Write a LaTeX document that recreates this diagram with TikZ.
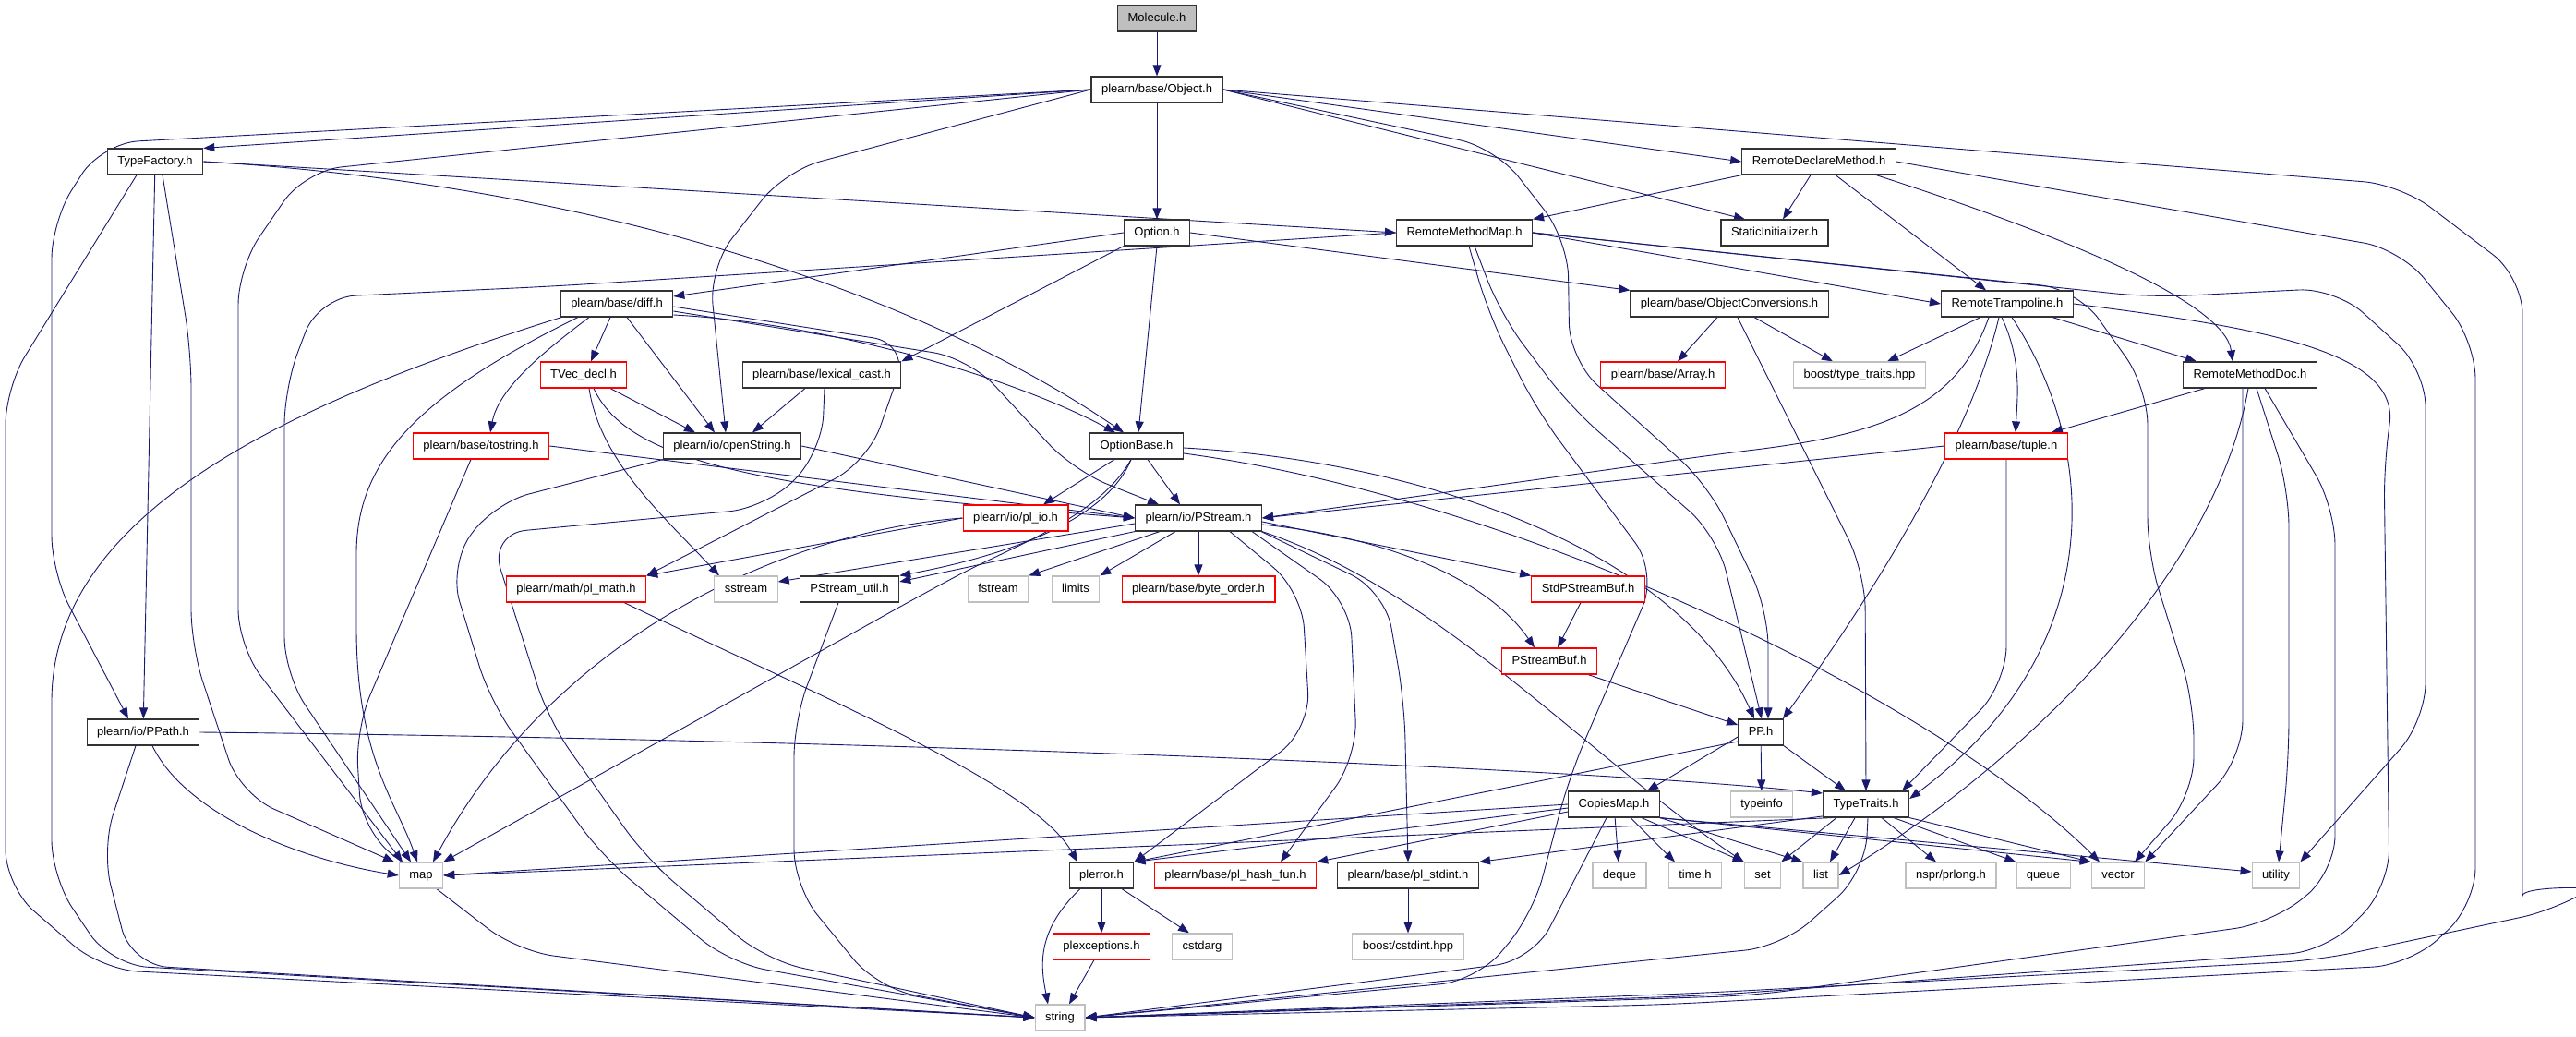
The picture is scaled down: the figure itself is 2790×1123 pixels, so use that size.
\documentclass[tikz,border=0pt]{standalone}
\usepackage{fontspec}
\setmainfont{Liberation Sans}
\usetikzlibrary{arrows.meta,backgrounds}

\definecolor{edgeblue}{HTML}{191970}
\definecolor{sysgray}{HTML}{BFBFBF}
\definecolor{hdrred}{HTML}{FF0000}
\definecolor{hdrblack}{HTML}{333333}

\tikzset{
  hdr/.style={draw=hdrblack, line width=1.2pt, fill=white, minimum height=28pt,
    inner xsep=11pt, inner ysep=0pt, text height=9.5pt, text depth=2.7pt,
    font=\fontsize{13}{15}\selectfont},
  hdrtrunc/.style={hdr, draw=hdrred},
  hdrsys/.style={hdr, draw=sysgray},
  hdrmain/.style={hdr, fill=sysgray},
  inc/.style={draw=edgeblue, line width=0.9pt, rounded corners=40pt,
    -{Triangle[length=12pt,width=9pt]}},
}

\begin{document}
\begin{tikzpicture}[x=1pt,y=-1pt]
\useasboundingbox (0,0) rectangle (2790,1123);

% top
\node[hdrmain] (molecule) at (1253,20) {Molecule.h};
\node[hdr] (object) at (1253,97) {plearn/base/Object.h};

% rank 2
\node[hdr] (typefactory) at (168,175) {TypeFactory.h};
\node[hdr] (remotedeclare) at (1970,175) {RemoteDeclareMethod.h};

% rank 3
\node[hdr] (option) at (1253,252) {Option.h};
\node[hdr] (remotemap) at (1586,252) {RemoteMethodMap.h};
\node[hdr] (staticinit) at (1922,252) {StaticInitializer.h};

% rank 4
\node[hdr] (diff) at (668,329) {plearn/base/diff.h};
\node[hdr] (objconv) at (1873,329) {plearn/base/ObjectConversions.h};
\node[hdr] (trampoline) at (2174,329) {RemoteTrampoline.h};

% rank 5
\node[hdrtrunc] (tvecdecl) at (632,406) {TVec\_decl.h};
\node[hdr] (lexcast) at (890,406) {plearn/base/lexical\_cast.h};
\node[hdrtrunc] (array) at (1801,406) {plearn/base/Array.h};
\node[hdrsys] (boosttt) at (2014,406) {boost/type\_traits.hpp};
\node[hdr] (methoddoc) at (2437,406) {RemoteMethodDoc.h};

% rank 6
\node[hdrtrunc] (tostring) at (521,483) {plearn/base/tostring.h};
\node[hdr] (openstring) at (793,483) {plearn/io/openString.h};
\node[hdr] (optionbase) at (1231,483) {OptionBase.h};
\node[hdrtrunc] (tuple) at (2173,483) {plearn/base/tuple.h};

% rank 7
\node[hdrtrunc] (plio) at (1100,561) {plearn/io/pl\_io.h};
\node[hdr] (pstream) at (1298,561) {plearn/io/PStream.h};

% rank 8
\node[hdrtrunc] (plmath) at (624,638) {plearn/math/pl\_math.h};
\node[hdrsys] (sstream) at (808,638) {sstream};
\node[hdr] (pstreamutil) at (920,638) {PStream\_util.h};
\node[hdrsys] (fstream) at (1081,638) {fstream};
\node[hdrsys] (limits) at (1165,638) {limits};
\node[hdrtrunc] (byteorder) at (1298,638) {plearn/base/byte\_order.h};
\node[hdrtrunc] (stdpsbuf) at (1720,638) {StdPStreamBuf.h};

% rank 9
\node[hdrtrunc] (psbuf) at (1678,716) {PStreamBuf.h};

% rank 10
\node[hdr] (ppath) at (155,793) {plearn/io/PPath.h};
\node[hdr] (pp) at (1907,793) {PP.h};

% rank 11
\node[hdr] (copiesmap) at (1748,871) {CopiesMap.h};
\node[hdrsys] (typeinfo) at (1908,871) {typeinfo};
\node[hdr] (typetraits) at (2021,871) {TypeTraits.h};

% rank 12
\node[hdrsys] (map) at (456,948) {map};
\node[hdr] (plerror) at (1193,948) {plerror.h};
\node[hdrtrunc] (hashfun) at (1338,948) {plearn/base/pl\_hash\_fun.h};
\node[hdr] (stdint) at (1525,948) {plearn/base/pl\_stdint.h};
\node[hdrsys] (deque) at (1754,948) {deque};
\node[hdrsys] (timeh) at (1836,948) {time.h};
\node[hdrsys] (set) at (1909,948) {set};
\node[hdrsys] (list) at (1972,948) {list};
\node[hdrsys] (prlong) at (2113,948) {nspr/prlong.h};
\node[hdrsys] (queue) at (2213,948) {queue};
\node[hdrsys] (vector) at (2294,948) {vector};
\node[hdrsys] (utility) at (2465,948) {utility};

% rank 13
\node[hdrtrunc] (plexc) at (1193,1025) {plexceptions.h};
\node[hdrsys] (cstdarg) at (1302,1025) {cstdarg};
\node[hdrsys] (cstdint) at (1525,1025) {boost/cstdint.hpp};

% bottom
\node[hdrsys] (string) at (1148,1102) {string};

\begin{scope}[on background layer]
\fill[white] (0,0) rectangle (2790,1123);

% Molecule.h
\draw[inc] (molecule) -- (object);

% Object.h
\draw[inc] (object.west) -- (typefactory.north east);
\draw[inc] (object.west) -- (110,155) -- (56,240) -- (56,620) -- ([xshift=-16pt]ppath.north);
\draw[inc] (object.west) -- (330,185) -- (258,290) -- (258,700) -- ([xshift=-20pt]map.north);
\draw[inc] (object.west) -- (850,185) -- (768,290) -- ([xshift=-7pt]openstring.north);
\draw[inc] (object) -- (option);
\draw[inc] (object.east) -- (1620,160) -- (1698,260) -- (1700,390) -- (1850,525) -- (1915,660) -- ([xshift=8pt]pp.north);
\draw[inc] (object.east) -- ([xshift=-32pt]staticinit.north);
\draw[inc] (object.east) -- (remotedeclare.west);
\draw[inc] (object.east) -- (2600,200) -- (2732,300) -- (2732,930) .. controls (2732,960) and (2810,960) .. (2770,985) -- (2510,1040) -- (1850,1075) -- (string.east);

% TypeFactory.h
\draw[inc] ([xshift=-20pt]typefactory.south) -- (6,420) -- (6,960) -- (110,1050) -- (string.west);
\draw[inc] (typefactory) -- (ppath);
\draw[inc] ([xshift=8pt]typefactory.south) -- (207,380) -- (207,700) -- (260,860) -- ([xshift=-29pt]map.north);
\draw[inc] (typefactory.east) -- (remotemap.west);
\draw[inc] (typefactory.east) .. controls (650,200) and (1000,320) .. ([xshift=-14pt]optionbase.north);

% RemoteDeclareMethod.h
\draw[inc] (remotedeclare.south west) -- (remotemap.north east);
\draw[inc] ([xshift=-9pt]remotedeclare.south) -- ([xshift=9pt]staticinit.north);
\draw[inc] ([xshift=18pt]remotedeclare.south) -- ([xshift=-23pt]trampoline.north);
\draw[inc] ([xshift=62pt]remotedeclare.south) .. controls (2250,260) and (2410,330) .. ([xshift=-19pt]methoddoc.north);
\draw[inc] (remotedeclare.east) -- (2600,270) -- (2681,370) -- (2681,980) -- (2610,1045) -- (1800,1088) -- (string.east);

% Option.h
\draw[inc] (option.west) -- ([yshift=8pt]diff.east);
\draw[inc] (option.south west) -- (lexcast.north east);
\draw[inc] (option.south) -- ([xshift=2pt]optionbase.north);
\draw[inc] (option.east) -- (objconv.north west);

% RemoteMethodMap.h
\draw[inc] (remotemap.west) -- (600,310) -- (345,322) -- (308,420) -- (308,730) -- ([xshift=-11pt]map.north);
\draw[inc] ([xshift=11pt]remotemap.south) -- (1625,340) -- (1700,440) -- (1860,580) -- ([xshift=1pt]pp.north);
\draw[inc] ([xshift=5pt]remotemap.south) -- (1612,340) -- (1665,445) -- (1795,620) -- (1700,840) -- (1660,990) -- (1600,1062) -- (string.east);
\draw[inc] (remotemap.east) -- (2250,313) -- (2326,420) -- (2326,600) -- (2376,760) -- (2376,860) -- ([xshift=18pt]vector.north);
\draw[inc] (remotemap.east) -- (2330,322) -- (2530,312) -- (2627,400) -- (2627,780) -- (utility.north east);
\draw[inc] (remotemap.east) -- (trampoline.west);

% ObjectConversions.h
\draw[inc] ([xshift=-13pt]objconv.south) -- ([xshift=16pt]array.north);
\draw[inc] ([xshift=27pt]objconv.south) -- ([xshift=-29pt]boosttt.north);
\draw[inc] ([xshift=9pt]objconv.south) -- (2020,620) -- (typetraits.north);

% RemoteTrampoline.h
\draw[inc] ([xshift=-29pt]trampoline.south) -- ([xshift=30pt]boosttt.north);
\draw[inc] ([xshift=-20pt]trampoline.south) .. controls (2120,440) and (2040,470) .. (1860,492) -- (pstream.east);
\draw[inc] ([xshift=-6pt]trampoline.south) .. controls (2190,390) and (2185,430) .. ([xshift=10pt]tuple.north);
\draw[inc] ([xshift=-9pt]trampoline.south) .. controls (2140,450) and (2060,600) .. ([xshift=24pt]pp.north);
\draw[inc] ([xshift=5pt]trampoline.south) .. controls (2270,480) and (2290,700) .. ([yshift=6pt]typetraits.east);
\draw[inc] ([xshift=49pt]trampoline.south) -- ([xshift=-58pt]methoddoc.north);
\draw[inc] (trampoline.east) .. controls (2450,355) and (2600,380) .. (2582,500) -- (2588,960) -- (2520,1030) -- (1850,1078) -- (string.east);

% RemoteMethodDoc.h
\draw[inc] ([xshift=24pt]methoddoc.south west) -- ([xshift=-18pt]tuple.north east);
\draw[inc] ([xshift=-2pt]methoddoc.south) .. controls (2400,620) and (2200,820) .. (list.east);
\draw[inc] ([xshift=-8pt]methoddoc.south) -- (2429,820) -- (vector.north east);
\draw[inc] ([xshift=7pt]methoddoc.south) -- (2479,530) -- (2479,820) -- ([xshift=3pt]utility.north);
\draw[inc] ([xshift=16pt]methoddoc.south) -- (2529,550) -- (2529,945) -- (2460,1000) -- (1900,1078) -- (string.east);

% diff.h
\draw[inc] ([xshift=-7pt]diff.south) -- ([xshift=8pt]tvecdecl.north);
\draw[inc] ([xshift=-30pt]diff.south) .. controls (590,380) and (540,420) .. ([xshift=10pt]tostring.north);
\draw[inc] ([xshift=11pt]diff.south) -- ([xshift=-19pt]openstring.north);
\draw[inc] ([xshift=-42pt]diff.south) .. controls (450,430) and (386,500) .. (386,640) .. controls (386,820) and (430,870) .. ([xshift=-4pt]map.north);
\draw[inc] ([xshift=-60pt]diff.south) .. controls (300,440) and (56,560) .. (56,800) -- (56,950) -- (120,1045) -- (string.west);
\draw[inc] ([yshift=-3pt]diff.east) -- (985,372) -- (940,500) -- (plmath.north east);
\draw[inc] ([yshift=-8pt]diff.east) -- (1050,388) -- (1163,510) -- ([xshift=-43pt]pstream.north);
\draw[inc] ([yshift=-12pt]diff.east) .. controls (900,350) and (1100,410) .. ([xshift=-23pt]optionbase.north);

% TVec_decl.h
\draw[inc] ([xshift=29pt]tvecdecl.south) -- ([xshift=-40pt]openstring.north);
\draw[inc] ([xshift=6pt]tvecdecl.south) .. controls (650,500) and (720,560) .. ([xshift=-29pt]sstream.north);
\draw[inc] ([xshift=11pt]tvecdecl.south) .. controls (680,500) and (820,530) .. (pstream.west);

% lexical_cast.h
\draw[inc] ([xshift=-18pt]lexcast.south) -- ([xshift=22pt]openstring.north);
\draw[inc] ([xshift=3pt]lexcast.south) -- (890,490) -- (830,550) -- (530,578) -- (594,780) -- (700,930) -- (830,1040) -- (string.west);

% tostring.h
\draw[inc] (tostring.east) -- (pstream.west);
\draw[inc] ([xshift=-11pt]tostring.south) -- (385,790) -- (392,900) -- (560,1030) -- (string.west);

% openString.h
\draw[inc] (openstring.east) -- (pstream.west);
\draw[inc] (openstring.south west) -- (534,545) -- (486,613) -- (531,760) -- (652,927) -- (790,1043) -- (string.west);

% OptionBase.h
\draw[inc] ([xshift=-24pt]optionbase.south) -- ([xshift=30pt]plio.north);
\draw[inc] ([xshift=12pt]optionbase.south) -- ([xshift=-20pt]pstream.north);
\draw[inc] ([xshift=-6pt]optionbase.south) .. controls (1200,560) and (1100,600) .. (pstreamutil.north east);
\draw[inc] ([xshift=-6pt]optionbase.south) .. controls (1190,560) and (1100,590) .. (1000,643) -- (map.north east);
\draw[inc] ([yshift=-2pt]optionbase.east) .. controls (1550,500) and (1820,600) .. ([xshift=-7pt]pp.north);
\draw[inc] ([yshift=-8pt]optionbase.east) .. controls (1650,540) and (2100,760) .. ([xshift=-20pt]vector.north);

% pl_io.h
\draw[inc] (plio.west) -- (plmath.north east);
\draw[inc] (plio.west) .. controls (850,575) and (600,690) .. ([xshift=13pt]map.north);

% PStream.h
\draw[inc] ([yshift=-6pt]pstream.west) -- ([yshift=8pt]sstream.east);
\draw[inc] (pstream.south west) -- ([yshift=8pt]pstreamutil.east);
\draw[inc] ([xshift=-42pt]pstream.south) -- (fstream.north east);
\draw[inc] ([xshift=-25pt]pstream.south) -- (limits.north east);
\draw[inc] (pstream) -- (byteorder);
\draw[inc] ([xshift=34pt]pstream.south) -- (1410,640) -- (1419,790) -- (plerror.north east);
\draw[inc] ([xshift=58pt]pstream.south) -- (1462,650) -- (1470,820) -- ([xshift=49pt]hashfun.north);
\draw[inc] ([xshift=68pt]pstream.south) -- (1500,640) -- (1521,760) -- (stdint.north);
\draw[inc] (pstream.south east) .. controls (1560,640) and (1720,820) .. (set.north west);
\draw[inc] ([yshift=-4pt]pstream.east) -- (stdpsbuf.north west);
\draw[inc] ([yshift=-7pt]pstream.east) .. controls (1530,585) and (1620,640) .. ([xshift=-16pt]psbuf.north);

% pl_math.h, PStream_util.h
\draw[inc] ([xshift=52pt]plmath.south) .. controls (900,760) and (1120,850) .. ([xshift=-26pt]plerror.north);
\draw[inc] ([xshift=-12pt]pstreamutil.south) -- (860,780) -- (860,960) -- (950,1070) -- (string.west);

% PStreamBuf
\draw[inc] ([xshift=-8pt]stdpsbuf.south) -- ([xshift=9pt]psbuf.north);
\draw[inc] ([xshift=42pt]psbuf.south) -- ([yshift=8pt]pp.west);

% PP.h
\draw[inc] ([yshift=-5pt]pp.west) -- ([xshift=36pt]copiesmap.north);
\draw[inc] (pp) -- (typeinfo);
\draw[inc] (pp.south east) -- ([xshift=-22pt]typetraits.north);
\draw[inc] ([yshift=-10pt]pp.west) -- (plerror.north east);

% CopiesMap.h
\draw[inc] (copiesmap.west) -- (map.east);
\draw[inc] ([yshift=-4pt]copiesmap.west) -- (plerror.north east);
\draw[inc] ([yshift=-8pt]copiesmap.west) -- (hashfun.north east);
\draw[inc] ([xshift=-8pt]copiesmap.south) -- (1660,1040) -- (string.east);
\draw[inc] (copiesmap) -- (deque);
\draw[inc] ([xshift=18pt]copiesmap.south) -- ([xshift=-22pt]timeh.north);
\draw[inc] ([xshift=30pt]copiesmap.south) -- (set.north west);
\draw[inc] (copiesmap.south east) -- (list.north west);
\draw[inc] (copiesmap.south east) -- (vector.north west);
\draw[inc] (copiesmap.south east) -- ([yshift=4pt]utility.west);

% TypeTraits.h
\draw[inc] ([xshift=-32pt]typetraits.south) -- (set.north east);
\draw[inc] ([xshift=-12pt]typetraits.south) -- ([xshift=10pt]list.north);
\draw[inc] ([xshift=2pt]typetraits.south) -- (2020,945) -- (1930,1025) -- (string.east);
\draw[inc] ([xshift=17pt]typetraits.south) -- ([xshift=-16pt]prlong.north);
\draw[inc] ([xshift=30pt]typetraits.south) -- (queue.north west);
\draw[inc] (typetraits.south east) -- (vector.north west);
\draw[inc] ([xshift=10pt]typetraits.south west) -- (map.east);
\draw[inc] ([xshift=10pt,yshift=3pt]typetraits.south west) -- (stdint.north east);

% PPath.h
\draw[inc] (ppath.east) .. controls (900,800) and (1700,830) .. ([yshift=12pt]typetraits.west);
\draw[inc] ([xshift=10pt]ppath.south) .. controls (200,880) and (320,930) .. (map.west);
\draw[inc] ([xshift=-8pt]ppath.south) -- (110,920) -- (142,1045) -- (string.west);

% plerror.h and the rest
\draw[inc] (plerror) -- (plexc);
\draw[inc] ([xshift=22pt]plerror.south) -- ([xshift=-14pt]cstdarg.north);
\draw[inc] ([xshift=-23pt]plerror.south) .. controls (1120,1010) and (1128,1050) .. ([xshift=-13pt]string.north);
\draw[inc] ([xshift=-8pt]plexc.south) -- ([xshift=10pt]string.north);
\draw[inc] (stdint) -- (cstdint);

% tuple.h
\draw[inc] (tuple.west) -- (pstream.east);
\draw[inc] (tuple.south) -- (2173,740) -- ([xshift=-8pt]typetraits.north east);
\end{scope}

\end{tikzpicture}
\end{document}
